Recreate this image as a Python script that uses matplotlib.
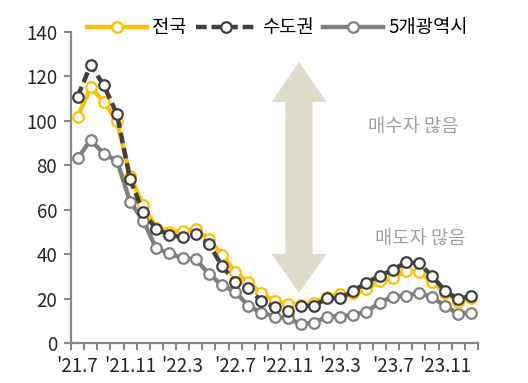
import matplotlib
matplotlib.use("Agg")
import matplotlib.pyplot as plt
from matplotlib.patches import Polygon
import numpy as np

plt.rcParams['font.family'] = ['Noto Sans CJK KR', 'DejaVu Sans']

months = ["'21.7", "'21.8", "'21.9", "'21.10", "'21.11", "'21.12",
          "'22.1", "'22.2", "'22.3", "'22.4", "'22.5", "'22.6",
          "'22.7", "'22.8", "'22.9", "'22.10", "'22.11", "'22.12",
          "'23.1", "'23.2", "'23.3", "'23.4", "'23.5", "'23.6",
          "'23.7", "'23.8", "'23.9", "'23.10", "'23.11", "'23.12", "'24.1"]
shown_labels = ["'21.7", "'21.11", "'22.3", "'22.7", "'22.11", "'23.3", "'23.7", "'23.11"]

national = [101.9, 115.1, 108.6, 100.0, 75.2, 62.0, 51.8, 50.1, 50.4, 51.3, 46.7, 39.7,
            32.1, 27.3, 22.4, 19.0, 17.6, 17.0, 18.1, 20.9, 21.9, 22.4, 24.2, 28.1,
            29.1, 32.5, 32.1, 27.6, 22.6, 18.6, 20.1]
capital = [110.9, 125.1, 116.0, 103.0, 73.7, 58.8, 51.3, 48.6, 47.6, 48.9, 44.6, 34.7,
           27.6, 24.6, 19.0, 16.1, 14.6, 16.7, 16.7, 20.1, 20.1, 23.4, 27.2, 30.2,
           32.9, 36.3, 35.9, 30.2, 23.4, 19.7, 21.3]
metro5 = [83.1, 91.4, 85.1, 82.1, 63.6, 55.1, 42.6, 40.4, 38.1, 37.7, 31.1, 26.1,
          23.1, 16.7, 13.7, 11.9, 11.1, 8.6, 9.1, 11.9, 11.9, 12.6, 14.1, 18.1,
          20.9, 21.3, 22.6, 20.6, 16.7, 13.1, 13.7]

fig = plt.figure(figsize=(5.28, 3.83), dpi=100)
ax = fig.add_axes([71/528, 1-343/383, (478-71)/528, (343-32)/383])

x = np.arange(len(months))

ms = 7.6
mew = 1.6
ax.plot(x, metro5, color='#808080', lw=3.2, marker='o', ms=ms, mfc='white',
        mec='#808080', mew=mew, label='5개광역시', zorder=3)
ax.plot(x, national, color='#FFC000', lw=3.2, marker='o', ms=ms, mfc='white',
        mec='#FFC000', mew=mew, label='전국', zorder=4)
ax.plot(x, capital, color='#404040', lw=3.2, ls=(0, (2.4, 1.1)), marker='o', ms=ms,
        mfc='white', mec='#404040', mew=mew, label='수도권', zorder=5)

# double arrow
cx, hw, sw = 16.87, 2.09, 1.03
ytip, ybase, ybase2, ybot = 126.5, 108.5, 40.1, 22.5
arrow = Polygon([(cx, ytip), (cx + hw, ybase), (cx + sw, ybase), (cx + sw, ybase2),
                 (cx + hw, ybase2), (cx, ybot), (cx - hw, ybase2), (cx - sw, ybase2),
                 (cx - sw, ybase), (cx - hw, ybase)], closed=True,
                facecolor='#DEDBCB', edgecolor='none', zorder=1)
ax.add_patch(arrow)

ax.text(25.55, 97, '매수자 많음', ha='center', va='center', fontsize=13.5, color='#A0A0A0')
ax.text(26.08, 46.4, '매도자 많음', ha='center', va='center', fontsize=13.5, color='#A0A0A0')

ax.set_xlim(-0.5, len(months) - 0.5)
ax.set_ylim(0, 140)
ax.set_yticks(np.arange(0, 141, 20))

ax.set_xticks(np.arange(-0.5, len(months), 1.0))
ax.set_xticklabels([])
lab_pos = [months.index(m) for m in shown_labels]
ax.set_xticks(lab_pos, minor=True)
ax.set_xticklabels(shown_labels, minor=True)
ax.tick_params(axis='x', which='major', length=5, width=1.5, color='#888888', direction='out')
ax.tick_params(axis='x', which='minor', length=0, pad=9, labelsize=13.5, labelcolor='#262626')
ax.tick_params(axis='y', length=5, width=1.5, color='#888888', direction='out', labelsize=13.5,
               labelcolor='#262626', pad=5)

for s in ['top', 'right']:
    ax.spines[s].set_visible(False)
for s in ['left', 'bottom']:
    ax.spines[s].set_color('#888888')
    ax.spines[s].set_linewidth(1.6)

handles, labels = ax.get_legend_handles_labels()
order = [1, 2, 0]
leg = fig.legend([handles[i] for i in order], [labels[i] for i in order],
                 loc='center', bbox_to_anchor=(277.5/528, 1-28/383), ncol=3, frameon=False,
                 fontsize=13.5, handlelength=3.2, handletextpad=0.3, columnspacing=0.5,
                 borderpad=0, borderaxespad=0)

fig.savefig('out.png', dpi=100)
